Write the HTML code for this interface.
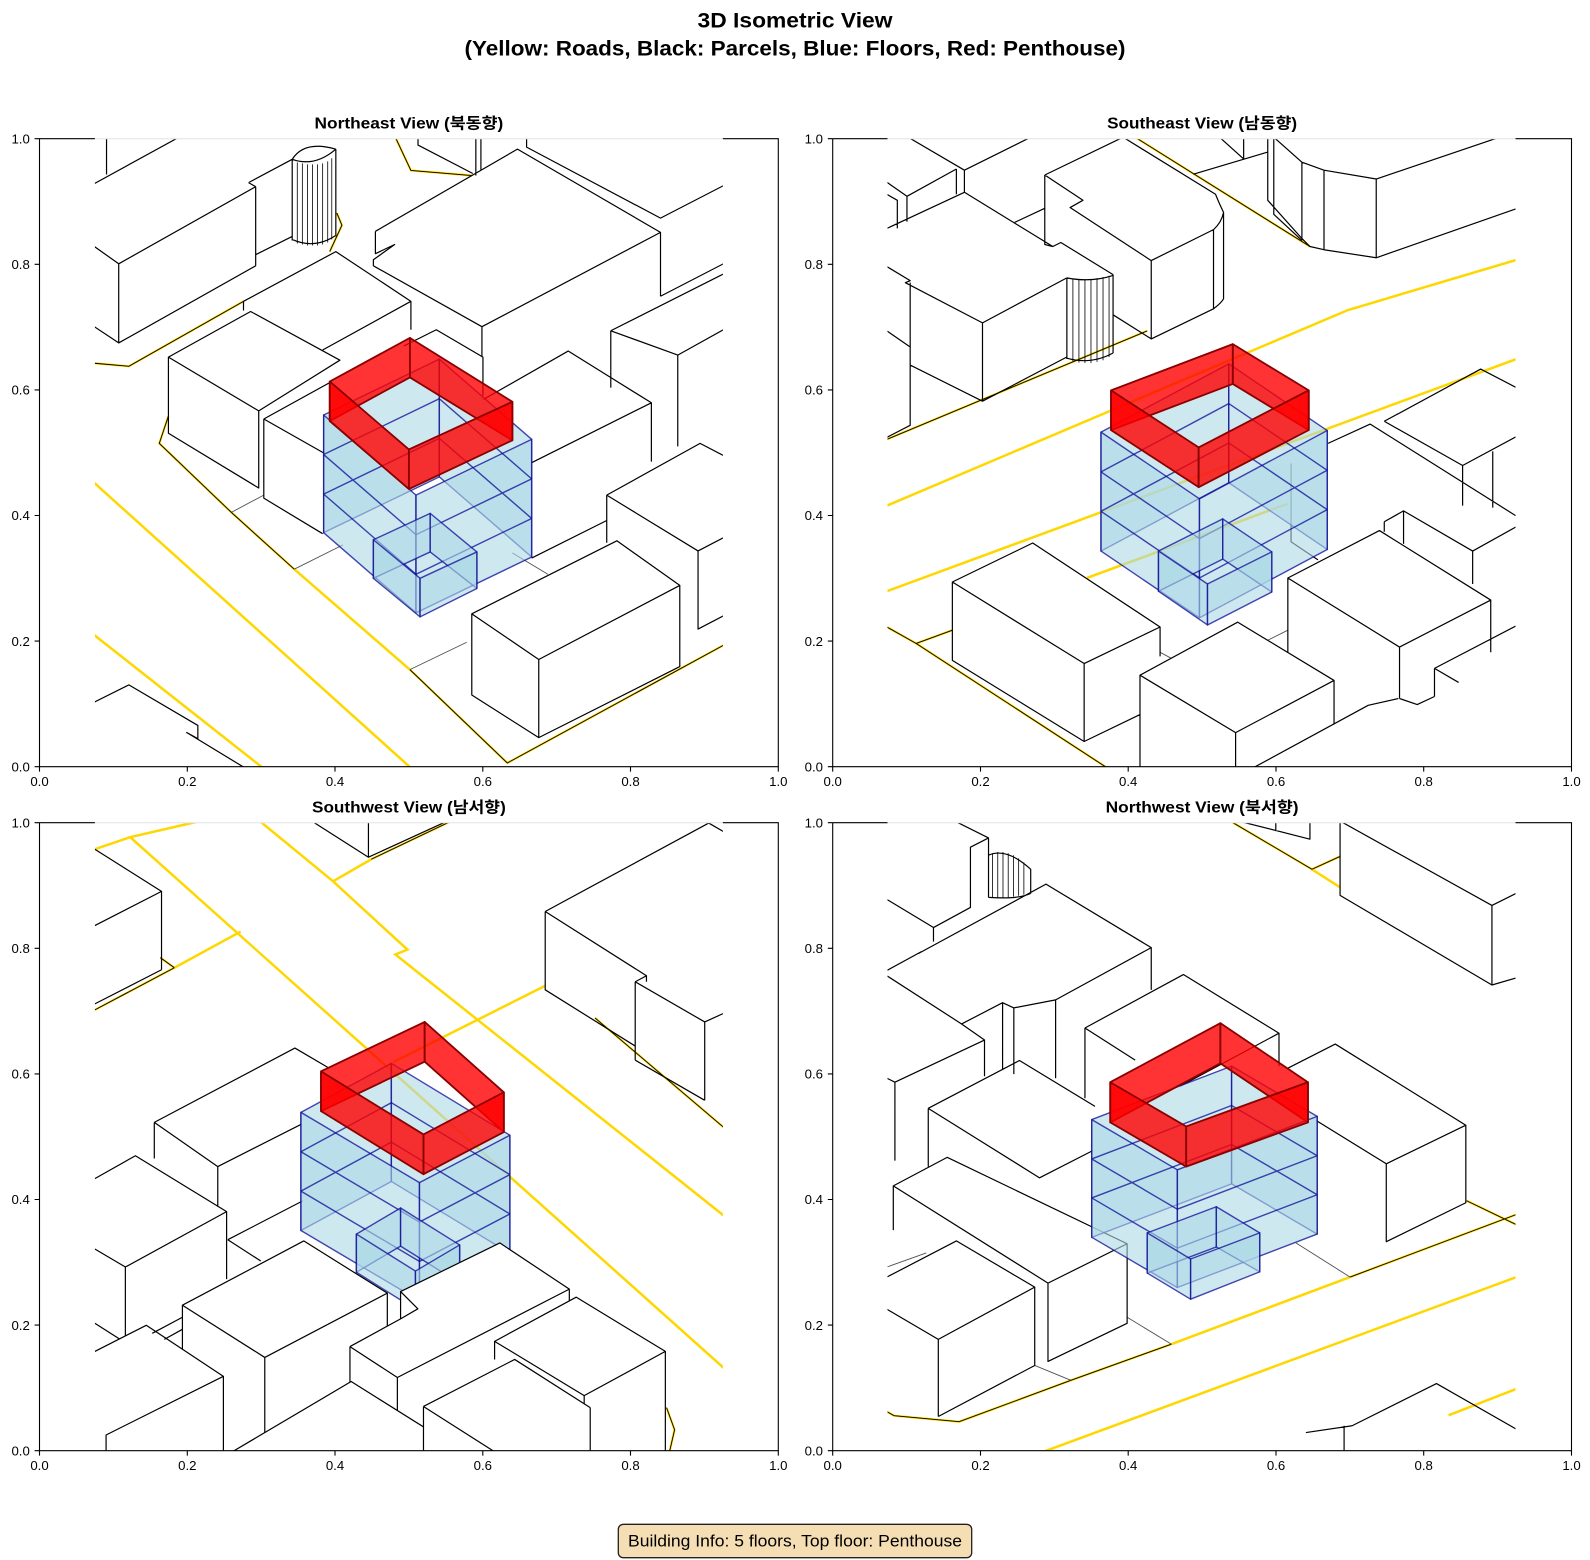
<!DOCTYPE html>
<html><head><meta charset="utf-8"><style>html,body{margin:0;padding:0;background:#fff}svg{display:block}</style></head><body>
<svg xmlns="http://www.w3.org/2000/svg" width="1590" height="1560" viewBox="0 0 1590 1560">
<style>
path,polygon,line,rect{vector-effect:non-scaling-stroke}
.k{fill:none;stroke:#000;stroke-width:1.2;stroke-linejoin:round}
.kt{fill:none;stroke:#000;stroke-width:0.8}
.wf{fill:#fff;stroke:none}
.p{fill:none;stroke:#333;stroke-width:0.9;opacity:.85}
.y{fill:none;stroke:#FFD700;stroke-width:2.5}
.o1{fill:none;stroke:#FFD700;stroke-width:2.2}
.o2{fill:none;stroke:#000;stroke-width:0.9}
.bw{fill:#ADD8E6;fill-opacity:.6;stroke:#0a0a96;stroke-opacity:.75;stroke-width:1.4;stroke-linejoin:round}
.bl{fill:none;stroke:#0a0a96;stroke-opacity:.75;stroke-width:1.4}
.rw{fill:#ff0000;fill-opacity:.8;stroke:#8b0000;stroke-width:1.8;stroke-linejoin:round}
.sp{fill:none;stroke:#000;stroke-width:1.1}
.tk{fill:none;stroke:#000;stroke-width:1.1}
text{font-family:"Liberation Sans","Noto Sans CJK KR",sans-serif;fill:#000}
.tl{font-size:13.2px}
.st{font-size:15.5px;font-weight:bold}
.mt{font-size:21.5px;font-weight:bold}
</style>
<defs>
<clipPath id="c1"><rect x="94.9" y="138.7" width="628" height="628"/></clipPath>
<clipPath id="c2"><rect x="887.5" y="138.7" width="628" height="628"/></clipPath>
<clipPath id="c3"><rect x="94.9" y="822.7" width="628" height="628"/></clipPath>
<clipPath id="c4"><rect x="887.5" y="822.7" width="628" height="628"/></clipPath>
</defs>
<rect x="0" y="0" width="1590" height="1560" fill="#fff"/>

<!-- Titles -->
<text class="mt" x="795" y="27.5" text-anchor="middle" textLength="195" lengthAdjust="spacingAndGlyphs">3D Isometric View</text>
<text class="mt" x="795" y="55.5" text-anchor="middle" textLength="661" lengthAdjust="spacingAndGlyphs">(Yellow: Roads, Black: Parcels, Blue: Floors, Red: Penthouse)</text>

<text class="st" x="408.9" y="128.5" text-anchor="middle" textLength="188.7" lengthAdjust="spacingAndGlyphs">Northeast View (북동향)</text>
<text class="st" x="1202.1" y="128.5" text-anchor="middle" textLength="190" lengthAdjust="spacingAndGlyphs">Southeast View (남동향)</text>
<text class="st" x="408.9" y="812.5" text-anchor="middle" textLength="193.8" lengthAdjust="spacingAndGlyphs">Southwest View (남서향)</text>
<text class="st" x="1202.1" y="812.5" text-anchor="middle" textLength="193" lengthAdjust="spacingAndGlyphs">Northwest View (북서향)</text>

<!-- ================= TL: Northeast ================= -->
<g clip-path="url(#c1)"><g transform="scale(1.0146)">
<path class="y" d="M93,476L404,756M93,626L258,756M290,561L404,660"/>
<path class="o1" d="M93,358L127,361L240,297M166,410L157,437L228,505L290,561M404,660L500,752L713,636M390,136L405,168L465,173M332,210L337,222L325,248"/>
<path class="o2" d="M93,358L127,361L240,297M166,410L157,437L228,505L290,561M404,660L500,752L713,636M390,136L405,168L465,173M332,210L337,222L325,248"/>
<path class="p" d="M290,561L338,537M228,505L260,488M404,660L460,633M505,545L540,566"/>
<path class="k" d="M93,243L117,260L252,184M117,260V338M93,322L117,338L252,262M252,184V262M93,181L175,136M105,136V172
M245,180L288,157M245,180L252,184M252,251L288,233
M288,157V237M331,147V233M288,236Q310,246 331,232M288,157Q310,165 331,147M288,157Q300,138 331,147
M370,228L510,147L651,229L475,322L368,262M370,228V250L389,241L368,256V262M475,322V352M651,229V292
M519,136V145L651,215L713,183M651,292L713,260M412,136V143L466,171M469,136V173M474,136V168
M166,352L247,307L335,355L255,405ZM166,352V427L255,481V405
M240,306V297L331,248L405,297L318,345M405,297V325
M398,341L430,325L476,352V390
M260,413L327,376M260,413V491L318,526M260,413L320,447
M476,394L560,346L642,397L524,456M642,397V455M524,550L598,513
M598,488L690,437L713,449M598,488L688,543L713,530M688,543V620L713,607M598,488V535
M602,326L713,270M602,326L668,350L713,325M602,326V382M668,350V440
M465,605L608,533L670,577L531,650ZM465,605V685L531,727L670,657V577M531,650V727
M93,692L127,675L195,715V728L184,722L240,756"/>
<path class="kt" d="M293,160V240M298,161V241M303,162V242M308,162V242M313,162V242M318,161V241M323,159V239M327,156V236"/>
<polygon class="bw" points="319,409 433,354 433,470 319,525"/>
<polygon class="bw" points="433,354 524,433 524,549 433,470"/>
<polygon class="bw" points="319,409 410,488 410,604 319,525"/>
<polygon class="bw" points="410,488 524,433 524,549 410,604"/>
<path class="bl" d="M319,448L410,527L524,472M319,487L410,566L524,511M319,448L433,393L524,472M319,487L433,432L524,511"/>
<polygon class="bw" points="368,532 424,506 424,544 368,570"/>
<polygon class="bw" points="424,506 470,544 470,580 424,544"/>
<polygon class="bw" points="368,532 414,570 414,608 368,570"/>
<polygon class="bw" points="414,570 470,544 470,580 414,608"/>
<polygon class="rw" points="325,376 404,333 404,372 325,415"/>
<polygon class="rw" points="404,333 505,396 505,434 404,372"/>
<polygon class="rw" points="325,376 403,443 403,482 325,415"/>
<polygon class="rw" points="403,443 505,396 505,434 403,482"/>
</g></g>

<!-- ================= TR: Southeast ================= -->
<g clip-path="url(#c2)"><g transform="translate(870 130) scale(0.40177)">
<path class="y" d="M42,935L1190,448L1620,320M42,1148L1620,566M540,1115L1040,930"/>
<path class="o1" d="M42,1237L115,1278L640,1620M115,1278L205,1245M42,770L690,500M660,18L1095,290"/>
<path class="o2" d="M42,1237L115,1278L640,1620M115,1278L205,1245M42,770L690,500M660,18L1095,290"/>
<path class="p" d="M990,1270L1040,1245M722,1300L750,1315"/>
<path class="k" d="M95,18L235,100L400,18
M42,130L92,165L215,97M92,165V228M215,97V160M235,100V155
M42,160L68,175V245
M42,245L235,155L455,290L475,280L605,360
M42,340L100,375L88,380L280,480L490,368M280,480V675M100,380V585L280,675L490,565
M490,368V570M605,360V555M490,568Q550,585 605,555M490,368Q550,380 605,362
M42,500L100,540V735L42,765
M435,112L630,18M630,18L860,160Q870,185 880,205M435,112L530,175L498,193L700,325L855,248Q875,230 880,205M435,112V285L455,290M700,325V520L855,445Q875,430 880,420V205M855,248V445M605,460L700,520M360,230L435,195
M1005,18L1075,80L1130,100L1260,122L1620,0M990,18V175L1075,270L1095,290L1130,298L1260,318L1620,192M1005,18V210L1075,275M1075,80V275M1130,100V298M1260,122V318M870,18L930,72M930,18V72M805,110L990,55
M1280,725L1520,595L1620,647M1280,725L1475,835L1620,757M1475,835V935M1550,800V940
M1140,780L1245,732L1620,968M1048,830V1025L1115,1070
M1280,975L1328,948L1500,1048L1620,981M1328,948V1030M1500,1048V1130M1280,975V1000
M1040,1115L1268,997L1545,1170L1318,1287ZM1040,1115V1300M1318,1287V1415M1545,1170V1300M1318,1415L1362,1430L1405,1410M1405,1340L1620,1228M1405,1340V1410M1405,1340L1465,1375
M205,1125L405,1028L722,1237L533,1328ZM205,1125V1320L533,1522M533,1328V1522M722,1237V1310M533,1522L672,1455
M672,1357L915,1225L1155,1370L910,1500ZM672,1357V1620M910,1500V1620M1155,1370V1480M894,1620L1240,1432L1315,1415"/>
<path class="kt" d="M505,372V576M520,373V579M535,372V580M550,371V580M565,369V577M580,366V573M595,363V565"/>
<polygon class="bw" points="575,752 893,582 893,878 575,1048"/>
<polygon class="bw" points="893,582 1138,748 1138,1044 893,878"/>
<polygon class="bw" points="575,752 820,918 820,1214 575,1048"/>
<polygon class="bw" points="820,918 1138,748 1138,1044 820,1214"/>
<path class="bl" d="M575,851L820,1017L1138,847M575,949L820,1115L1138,945M575,851L893,681L1138,847M575,949L893,779L1138,945"/>
<polygon class="bw" points="718,1048 878,968 878,1068 718,1148"/>
<polygon class="bw" points="878,968 1000,1050 1000,1150 878,1068"/>
<polygon class="bw" points="718,1048 840,1130 840,1232 718,1148"/>
<polygon class="bw" points="840,1130 1000,1050 1000,1150 840,1232"/>
<polygon class="rw" points="600,648 903,533 903,632 600,747"/>
<polygon class="rw" points="903,533 1092,648 1092,747 903,632"/>
<polygon class="rw" points="600,648 818,790 818,889 600,747"/>
<polygon class="rw" points="818,790 1092,648 1092,747 818,889"/>
</g></g>

<!-- ================= BL: Southwest ================= -->
<g clip-path="url(#c3)"><g transform="translate(88 805) scale(0.40177)">
<path class="y" d="M17,110L105,80L270,42M105,80L1590,1408M215,405L380,315M430,42L610,190L795,360L765,372L1590,1028M610,190L705,135M760,640L1138,450"/>
<path class="o1" d="M17,510L215,405M180,380L215,405M705,135L900,42M1262,530L1590,809M1440,1500L1460,1555L1445,1620"/>
<path class="o2" d="M17,510L215,405M180,380L215,405M705,135L900,42M1262,530L1590,809M1440,1500L1460,1555L1445,1620"/>
<path class="k" d="M560,42L698,130L890,42M698,42V130
M17,110L183,215V410M17,300L183,215M17,495L183,410
M1138,265L1545,45L1590,71M1138,265L1390,425L1362,440M1138,265V460L1362,600M1390,425V440M1362,440V635M1362,440L1535,540L1590,515M1535,540V735M1362,635L1535,735
M165,790L515,605L600,655M165,790L323,900L530,795M165,790V880M323,900V1000
M17,930L118,873L345,1012L93,1150L17,1105M93,1150V1330M345,1012V1180M17,1290L80,1330
M348,1082L535,985M348,1082L430,1135"/>
<polygon class="bw" points="530,765 755,643 755,937 530,1059"/>
<polygon class="bw" points="755,643 1050,822 1050,1116 755,937"/>
<polygon class="bw" points="530,765 825,940 825,1234 530,1059"/>
<polygon class="bw" points="825,940 1050,822 1050,1116 825,1234"/>
<path class="bl" d="M530,863L825,1038L1050,920M530,961L825,1136L1050,1018M530,863L755,741L1050,920M530,961L755,839L1050,1018"/>
<polygon class="bw" points="668,1068 778,1003 778,1098 668,1163"/>
<polygon class="bw" points="778,1003 925,1095 925,1190 778,1098"/>
<polygon class="bw" points="668,1068 815,1160 815,1255 668,1163"/>
<polygon class="bw" points="815,1160 925,1095 925,1190 815,1255"/>
<polygon class="rw" points="580,663 838,540 838,639 580,762"/>
<polygon class="rw" points="838,540 1035,715 1035,814 838,639"/>
<polygon class="rw" points="580,663 835,820 835,919 580,762"/>
<polygon class="rw" points="835,820 1035,715 1035,814 835,919"/>
<!-- Q3 -->
<polygon class="wf" points="235,1245 537,1085 745,1215 745,1620 235,1620"/>
<path class="k" d="M235,1245L537,1085L745,1215L440,1375ZM235,1245V1360M440,1375V1620M745,1215V1300"/>
<!-- Q4 -->
<polygon class="wf" points="17,1360 145,1295 337,1422 337,1620 17,1620"/>
<path class="k" d="M17,1360L145,1295L337,1422L45,1568V1620M337,1422V1620M160,1315L235,1275M190,1330L235,1305"/>
<!-- Q5 -->
<polygon class="wf" points="652,1348 778,1279 778,1211 1025,1090 1198,1205 1198,1240 770,1512 652,1440"/>
<path class="k" d="M652,1348L778,1279L821,1254L778,1211L1025,1090L1198,1205L770,1425L652,1348M778,1211V1279M652,1348V1440L770,1512V1425M1198,1205V1240"/>
<!-- Q8 -->
<polygon class="wf" points="342,1620 655,1435 950,1620"/>
<path class="k" d="M342,1620L655,1435L950,1620"/>
<!-- Q6 -->
<polygon class="wf" points="1012,1335 1215,1225 1437,1360 1437,1620 1012,1620"/>
<path class="k" d="M1012,1335L1215,1225L1437,1360L1235,1470ZM1437,1360V1620M1235,1470V1620M1012,1335V1380"/>
<!-- Q7 -->
<polygon class="wf" points="835,1497 1062,1380 1250,1500 1250,1620 835,1620"/>
<path class="k" d="M835,1497L1062,1380L1250,1500M835,1497V1620M1250,1500V1620M835,1497L1028,1620"/>
</g></g>

<!-- ================= BR: Northwest ================= -->
<g clip-path="url(#c4)"><g transform="translate(870 805) scale(0.40177)">
<path class="y" d="M1100,160L1170,205M750,1342L1195,1175M404,1620L1620,1171M1440,1519L1620,1449"/>
<path class="o1" d="M900,42L1100,160L1170,128M42,1510L60,1520L222,1535L500,1432L750,1342M1195,1175L1620,1015M1485,985L1620,1050"/>
<path class="o2" d="M900,42L1100,160L1170,128M42,1510L60,1520L222,1535L500,1432L750,1342M1195,1175L1620,1015M1485,985L1620,1050"/>
<path class="p" d="M640,1275L750,1342M1060,1090L1195,1175M410,1395L500,1432M42,1150L140,1115"/>
<path class="k" d="M925,42L1095,85V42M1010,42V65
M1170,40L1548,250L1620,214M1170,40V225L1548,448L1620,427M1548,250V448
M42,235L158,305V340M158,305L250,255V105L295,82V230M215,42L295,82
M295,125Q340,105 400,160V220M400,220Q370,235 295,230
M42,412L128,365M120,370L438,197L700,355L462,485L358,505L330,492L228,545M700,355V460M462,485V680M358,505V670M330,492V660M42,425L228,545
M228,545L285,585L62,690L42,680M62,690V885M285,585V675
M535,555L780,422L1018,568L772,700M535,555V730M1018,568V650M535,555L660,635
M1040,655L1158,595L1483,797L1285,893L1110,785M1285,893V1087L1483,990V797
M145,755L372,636L560,750M145,755L422,928L555,860M145,755V900
M58,948L192,877L640,1092L443,1190ZM58,948V1058M443,1190V1385L640,1290V1092
M42,1175L215,1085L410,1200L170,1330L42,1255M170,1330V1522M410,1200V1395L170,1522
M1085,1562L1200,1545L1410,1440L1620,1560M1180,1545V1620"/>
<path class="kt" d="M305,120V230M318,117V232M331,117V232M344,120V230M357,125V228M370,133V226M383,143V223"/>
<polygon class="bw" points="552,783 900,650 900,943 552,1076"/>
<polygon class="bw" points="900,650 1113,775 1113,1068 900,943"/>
<polygon class="bw" points="552,783 765,908 765,1201 552,1076"/>
<polygon class="bw" points="765,908 1113,775 1113,1068 765,1201"/>
<path class="bl" d="M552,881L765,1006L1113,873M552,978L765,1103L1113,970M552,881L900,748L1113,873M552,978L900,845L1113,970"/>
<polygon class="bw" points="690,1065 862,1000 862,1100 690,1165"/>
<polygon class="bw" points="862,1000 970,1065 970,1162 862,1100"/>
<polygon class="bw" points="690,1065 798,1130 798,1230 690,1165"/>
<polygon class="bw" points="798,1130 970,1065 970,1162 798,1230"/>
<polygon class="rw" points="598,690 872,543 872,643 598,790"/>
<polygon class="rw" points="872,543 1090,690 1090,790 872,643"/>
<polygon class="rw" points="598,690 787,800 787,900 598,790"/>
<polygon class="rw" points="787,800 1090,690 1090,790 787,900"/>
</g></g>

<path d="M94.9,138.7H722.9M887.5,138.7H1515.5M94.9,822.7H722.9M887.5,822.7H1515.5" stroke="#e4e4e4" stroke-width="1" fill="none"/>

<path class="sp" d="M39.5,138.7V766.7H778.3V138.7H722.9M94.9,138.7H39.5"/>
<path class="sp" d="M832.7,138.7V766.7H1571.5V138.7H1515.5M887.5,138.7H832.7"/>
<path class="sp" d="M39.5,822.7V1450.7H778.3V822.7H722.9M94.9,822.7H39.5"/>
<path class="sp" d="M832.7,822.7V1450.7H1571.5V822.7H1515.5M887.5,822.7H832.7"/>

<path class="tk" d="M39.5,766.7v4.9M187.3,766.7v4.9M335,766.7v4.9M482.8,766.7v4.9M630.5,766.7v4.9M778.3,766.7v4.9M39.5,766.7h-4.9M39.5,641.1h-4.9M39.5,515.5h-4.9M39.5,389.9h-4.9M39.5,264.3h-4.9M39.5,138.7h-4.9"/>
<path class="tk" d="M832.7,766.7v4.9M980.5,766.7v4.9M1128.2,766.7v4.9M1276,766.7v4.9M1423.7,766.7v4.9M1571.5,766.7v4.9M832.7,766.7h-4.9M832.7,641.1h-4.9M832.7,515.5h-4.9M832.7,389.9h-4.9M832.7,264.3h-4.9M832.7,138.7h-4.9"/>
<path class="tk" d="M39.5,1450.7v4.9M187.3,1450.7v4.9M335,1450.7v4.9M482.8,1450.7v4.9M630.5,1450.7v4.9M778.3,1450.7v4.9M39.5,1450.7h-4.9M39.5,1325.1h-4.9M39.5,1199.5h-4.9M39.5,1073.9h-4.9M39.5,948.3h-4.9M39.5,822.7h-4.9"/>
<path class="tk" d="M832.7,1450.7v4.9M980.5,1450.7v4.9M1128.2,1450.7v4.9M1276,1450.7v4.9M1423.7,1450.7v4.9M1571.5,1450.7v4.9M832.7,1450.7h-4.9M832.7,1325.1h-4.9M832.7,1199.5h-4.9M832.7,1073.9h-4.9M832.7,948.3h-4.9M832.7,822.7h-4.9"/>

<g class="tl" text-anchor="middle">
<text x="39.5" y="786">0.0</text><text x="187.3" y="786">0.2</text><text x="335" y="786">0.4</text><text x="482.8" y="786">0.6</text><text x="630.5" y="786">0.8</text><text x="778.3" y="786">1.0</text>
<text x="832.7" y="786">0.0</text><text x="980.5" y="786">0.2</text><text x="1128.2" y="786">0.4</text><text x="1276" y="786">0.6</text><text x="1423.7" y="786">0.8</text><text x="1571.5" y="786">1.0</text>
<text x="39.5" y="1470">0.0</text><text x="187.3" y="1470">0.2</text><text x="335" y="1470">0.4</text><text x="482.8" y="1470">0.6</text><text x="630.5" y="1470">0.8</text><text x="778.3" y="1470">1.0</text>
<text x="832.7" y="1470">0.0</text><text x="980.5" y="1470">0.2</text><text x="1128.2" y="1470">0.4</text><text x="1276" y="1470">0.6</text><text x="1423.7" y="1470">0.8</text><text x="1571.5" y="1470">1.0</text>
</g>
<g class="tl" text-anchor="end">
<text x="29.8" y="771.4">0.0</text><text x="29.8" y="645.8">0.2</text><text x="29.8" y="520.2">0.4</text><text x="29.8" y="394.6">0.6</text><text x="29.8" y="269">0.8</text><text x="29.8" y="143.4">1.0</text>
<text x="823" y="771.4">0.0</text><text x="823" y="645.8">0.2</text><text x="823" y="520.2">0.4</text><text x="823" y="394.6">0.6</text><text x="823" y="269">0.8</text><text x="823" y="143.4">1.0</text>
<text x="29.8" y="1455.4">0.0</text><text x="29.8" y="1329.8">0.2</text><text x="29.8" y="1204.2">0.4</text><text x="29.8" y="1078.6">0.6</text><text x="29.8" y="953">0.8</text><text x="29.8" y="827.4">1.0</text>
<text x="823" y="1455.4">0.0</text><text x="823" y="1329.8">0.2</text><text x="823" y="1204.2">0.4</text><text x="823" y="1078.6">0.6</text><text x="823" y="953">0.8</text><text x="823" y="827.4">1.0</text>
</g>

<rect x="618.3" y="1524.3" width="353.4" height="33.4" rx="5" ry="5" fill="#F5DEB3" stroke="#222" stroke-width="1.3"/>
<text x="795" y="1546.5" text-anchor="middle" font-size="16.5" textLength="334" lengthAdjust="spacingAndGlyphs">Building Info: 5 floors, Top floor: Penthouse</text>
</svg>
</body></html>
